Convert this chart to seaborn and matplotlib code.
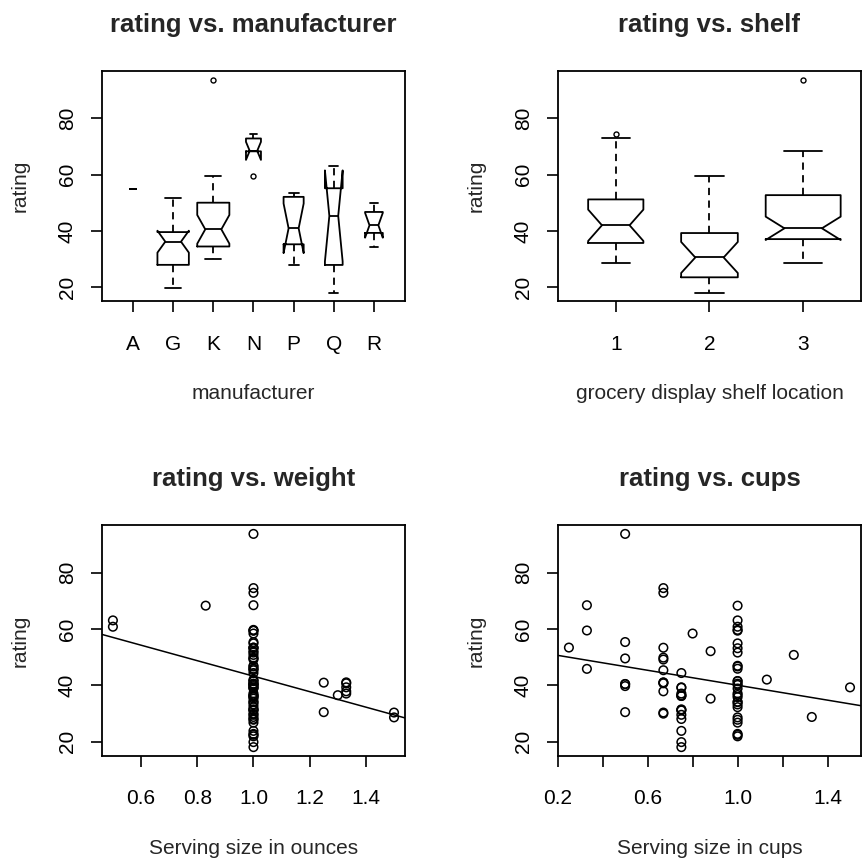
import numpy as np
import pandas as pd
import matplotlib
matplotlib.use('Agg')
import matplotlib.pyplot as plt
import seaborn as sns

# cereal data (74 cereals, rows with missing values dropped)
mfr = ['N', 'Q', 'K', 'K', 'G', 'K', 'G', 'R', 'P', 'Q', 'G', 'G', 'G', 'G', 'R', 'K',
       'K', 'G', 'K', 'K', 'G', 'R', 'K', 'K', 'K', 'P', 'K', 'P', 'P', 'G', 'P', 'P',
       'P', 'Q', 'G', 'P', 'K', 'K', 'G', 'Q', 'G', 'A', 'R', 'R', 'K', 'G', 'K', 'K',
       'K', 'G', 'P', 'K', 'Q', 'Q', 'Q', 'K', 'G', 'K', 'R', 'K', 'N', 'N', 'N', 'K',
       'K', 'N', 'G', 'G', 'G', 'G', 'G', 'R', 'G', 'G']
shelf = [3, 3, 3, 3, 1, 2, 3, 1, 3, 2, 1, 2, 3, 2, 1, 1,
         2, 2, 3, 3, 3, 3, 2, 1, 2, 3, 3, 2, 1, 2, 3, 3,
         3, 2, 1, 1, 3, 3, 2, 2, 2, 2, 3, 3, 3, 1, 2, 3,
         3, 3, 3, 3, 3, 3, 3, 2, 3, 3, 1, 1, 1, 1, 1, 2,
         1, 2, 3, 3, 3, 3, 2, 1, 1, 1]
weight = [1, 1, 1, 1, 1, 1, 1.33, 1, 1, 1, 1, 1, 1, 1, 1, 1,
          1, 1, 1, 1, 1, 1, 1, 1, 1, 1.25, 1.33, 1, 1, 1, 1, 1,
          1, 1, 1, 1, 1, 1.3, 1, 1, 1, 1, 1, 1, 1.5, 1, 1, 1.33,
          1, 1.25, 1.33, 1, 0.5, 0.5, 1, 1.33, 1, 1, 1, 1, 0.83, 1, 1, 1,
          1, 1, 1, 1.5, 1, 1, 1, 1, 1, 1]
cups = [0.33, 1, 0.33, 0.5, 0.75, 1, 0.75, 0.67, 0.67, 0.75, 1.25, 0.75, 0.5, 1, 1, 1,
        1, 1, 0.5, 1, 0.75, 0.75, 1, 0.75, 0.8, 0.67, 0.67, 0.75, 0.88, 0.75, 0.88, 0.25,
        0.33, 1, 0.75, 1.33, 1, 0.75, 1.5, 0.67, 1, 1, 1, 1, 0.67, 1, 0.67, 0.67,
        1, 0.5, 0.67, 1, 1, 1, 0.5, 0.75, 0.5, 0.5, 1.13, 1, 1, 0.67, 0.67, 0.75,
        1, 1, 1, 1, 1, 0.75, 1, 0.67, 1, 0.75]
rating = [68.40, 33.98, 59.43, 93.70, 29.51, 33.17, 37.04, 49.12, 53.31, 18.04, 50.76,
          19.82, 40.40, 22.74, 41.45, 45.86, 35.78, 22.40, 40.45, 46.90, 36.18, 44.33,
          32.21, 31.44, 58.35, 40.92, 41.02, 28.03, 35.25, 23.80, 52.08, 53.37, 45.81,
          21.87, 31.07, 28.74, 36.52, 36.47, 39.24, 45.33, 26.73, 54.85, 37.14, 34.14,
          30.31, 40.11, 29.92, 40.69, 59.64, 30.45, 37.84, 41.50, 60.76, 63.01, 49.51,
          39.26, 39.70, 55.33, 42.00, 40.56, 68.24, 74.47, 72.80, 31.23, 53.13, 59.36,
          38.84, 28.59, 46.66, 39.11, 27.75, 49.79, 51.59, 36.19]

mfr_levels = ['A', 'G', 'K', 'N', 'P', 'Q', 'R']
shelf_levels = [1, 2, 3]
rating_ticks = [20, 40, 60, 80]
weight_ticks = [0.6, 0.8, 1.0, 1.2, 1.4]
weight_labels = ['0.6', '0.8', '1.0', '1.2', '1.4']
cups_ticks = [0.2, 0.4, 0.6, 0.8, 1.0, 1.2, 1.4]
cups_labels = ['0.2', '', '0.6', '', '1.0', '', '1.4']

df = pd.DataFrame({'mfr': mfr, 'shelf': shelf, 'weight': weight,
                   'cups': cups, 'rating': rating})

sns.set_style('ticks')
plt.rcParams['font.family'] = ['Liberation Sans', 'DejaVu Sans']
plt.rcParams['axes.linewidth'] = 1.3
plt.rcParams['axes.edgecolor'] = 'black'

LW = 1.3
FS = 15
ylim = (15.01, 96.73)

fig = plt.figure(figsize=(8.63, 8.59), dpi=100)
ax1 = fig.add_axes([0.1178, 0.6492, 0.3518, 0.2681])
ax2 = fig.add_axes([0.6462, 0.6492, 0.3518, 0.2681])
ax3 = fig.add_axes([0.1178, 0.1203, 0.3518, 0.2681])
ax4 = fig.add_axes([0.6462, 0.1203, 0.3518, 0.2681])


def notched(ax, col, levels):
    # R style: varwidth boxes, notches, dashed whiskers
    nmax = df[col].value_counts().max()
    for lvl in levels:
        sub = df[df[col] == lvl]
        w = 0.8 * np.sqrt(len(sub) / nmax)
        sns.boxplot(data=sub, x=col, y='rating', order=levels, width=w,
                    notch=True, fill=False, color='black', linewidth=LW,
                    whis=1.5, fliersize=3.6,
                    whiskerprops={'linestyle': (0, (4, 3))},
                    flierprops={'marker': 'o', 'markerfacecolor': 'none',
                                'markeredgecolor': 'black',
                                'markeredgewidth': 1.0},
                    ax=ax)
    n = len(levels)
    pad = 0.04 * n
    ax.set_xlim(-0.5 - pad, n - 0.5 + pad)


def scatter_fit(ax, col, xlim):
    ax.set_xlim(xlim)
    sns.regplot(data=df, x=col, y='rating', ax=ax, ci=None, truncate=False,
                color='black', marker='o',
                scatter_kws={'facecolors': 'none', 'edgecolors': 'black',
                             's': 38, 'linewidths': 1.1, 'alpha': 1},
                line_kws={'linewidth': 1.1})
    ax.set_xlim(xlim)


notched(ax1, 'mfr', mfr_levels)
notched(ax2, 'shelf', shelf_levels)
scatter_fit(ax3, 'weight', (0.46, 1.54))
scatter_fit(ax4, 'cups', (0.2, 1.55))

ax3.set_xticks(weight_ticks)
ax3.set_xticklabels(weight_labels)
ax4.set_xticks(cups_ticks)
ax4.set_xticklabels(cups_labels)

titles = ['rating vs. manufacturer', 'rating vs. shelf',
          'rating vs. weight', 'rating vs. cups']
xlabels = ['manufacturer', 'grocery display shelf location',
           'Serving size in ounces', 'Serving size in cups']

for ax, t, xl in zip([ax1, ax2, ax3, ax4], titles, xlabels):
    ax.set_ylim(ylim)
    ax.set_yticks(rating_ticks)
    ax.set_title(t, fontsize=18.5, fontweight='bold', pad=28)
    ax.set_xlabel(xl, fontsize=FS, labelpad=22)
    ax.set_ylabel('rating', fontsize=FS, labelpad=20)
    ax.tick_params(axis='both', direction='out', length=8, width=1.2,
                   colors='black', labelsize=FS)
    ax.tick_params(axis='x', pad=16)
    ax.tick_params(axis='y', pad=10, labelrotation=90)
    for lab in ax.get_yticklabels():
        lab.set_va('center')
    for s in ax.spines.values():
        s.set_visible(True)
        s.set_linewidth(1.3)
        s.set_color('black')
    ax.grid(False)

fig.savefig('out.png', dpi=100, facecolor='white')
